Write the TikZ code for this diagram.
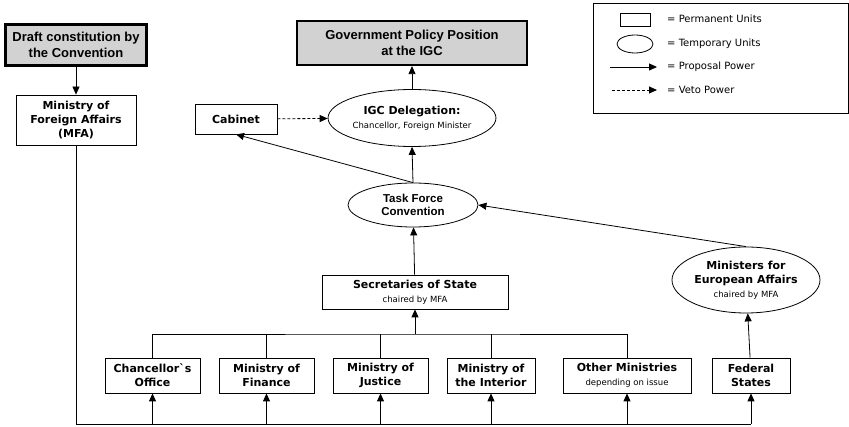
\documentclass[tikz,border=0pt]{standalone}
\usepackage{fontspec}
\setmainfont{DejaVu Sans}
\newfontfamily\arialfont{Liberation Sans}
\usepackage{tikz}
\usetikzlibrary{shapes.geometric}
\usetikzlibrary{arrows.meta}
\definecolor{BoxGray}{RGB}{210,210,210}
\tikzstyle{UnitBox}=[rectangle,draw,line width=0.8pt,inner sep=0pt,align=center,
font=\bfseries\fontsize{11}{14}\selectfont]
\tikzstyle{TempUnit}=[ellipse,draw,line width=0.8pt,inner sep=0pt,align=center,
font=\bfseries\fontsize{11}{14}\selectfont]
\tikzstyle{PolicyBox}=[rectangle,draw,line width=2.2pt,fill=BoxGray,inner sep=0pt,align=center,
font=\arialfont\bfseries\fontsize{13}{15.5}\selectfont]
\tikzstyle{Proposal}=[line width=0.8pt,-{Triangle[length=8pt,width=7pt]}]
\tikzstyle{Veto}=[Proposal,dash pattern=on 3pt off 2pt]
\tikzstyle{Link}=[line width=0.8pt]
\tikzstyle{KeyText}=[anchor=west,inner sep=0pt,font=\fontsize{10}{12}\selectfont]
\newcommand{\smalltxt}[1]{{\mdseries\fontsize{8.5}{11}\selectfont #1}}

\begin{document}
\begin{tikzpicture}[x=1pt,y=-1pt]
        \useasboundingbox (0,0) rectangle (849,427);
        % top level
        \node[PolicyBox,minimum width=141,minimum height=41](draft)at(76,45){Draft constitution by\\the Convention};
        \node[PolicyBox,minimum width=230,minimum height=44](gov)at(412,43){Government Policy Position\\at the IGC};
        \node[UnitBox,minimum width=120,minimum height=50](mfa)at(76,120){Ministry of\\Foreign Affairs\\(MFA)};
        \node[UnitBox,minimum width=82,minimum height=30](cab)at(236,119){Cabinet};
        \node[TempUnit,minimum width=160,minimum height=57](igc)at(412,118){IGC Delegation:\\\smalltxt{Chancellor, Foreign Minister}};
        \node[TempUnit,minimum width=130,minimum height=44,font=\arialfont\bfseries\fontsize{11.5}{13}\selectfont](task)at(413,205){Task Force\\Convention};
        \node[UnitBox,minimum width=186,minimum height=34](sec)at(415,292){Secretaries of State\\\smalltxt{chaired by MFA}};
        \node[TempUnit,minimum width=148,minimum height=66](min)at(746,280){Ministers for\\European Affairs\\\smalltxt{chaired by MFA}};
        % ministries
        \node[UnitBox,minimum width=95,minimum height=35](chanc)at(152.5,375.5){Chancellor\textasciigrave s\\Office};
        \node[UnitBox,minimum width=95,minimum height=35](fin)at(266.5,375.5){Ministry of\\Finance};
        \node[UnitBox,minimum width=95,minimum height=35](just)at(380.5,375.5){Ministry of\\Justice};
        \node[UnitBox,minimum width=88,minimum height=35](inter)at(491,375.5){Ministry of\\the Interior};
        \node[UnitBox,minimum width=128,minimum height=35](other)at(627,375.5){Other Ministries\\\smalltxt{depending on issue}};
        \node[UnitBox,minimum width=78,minimum height=35](fed)at(751,375.5){Federal\\States};
        \coordinate(bus)at(415,334);
        \coordinate(base)at(76,424);
        % connectors
        \draw[Proposal](draft)--(mfa);
        \draw[Proposal](igc)--(gov);
        \draw[Proposal](task.north)--(igc.south);
        \draw[Proposal](task.north)--(cab.south);
        \draw[Veto](cab)--(igc);
        \draw[Proposal](sec)--(task);
        \draw[Proposal](min.north)--(task.east);
        \draw[Proposal](fed)--(min);
        \draw[Link](chanc.north)|-(bus)-|(other.north);
        \draw[Link](fin.north)--(fin.north|-bus);
        \draw[Link](just.north)--(just.north|-bus);
        \draw[Link](inter.north)--(inter.north|-bus);
        \draw[Proposal](bus)--(sec.south);
        \draw[Link](mfa.south)|-(fed.south|-base);
        \draw[Proposal](chanc.south|-base)--(chanc.south);
        \draw[Proposal](fin.south|-base)--(fin.south);
        \draw[Proposal](just.south|-base)--(just.south);
        \draw[Proposal](inter.south|-base)--(inter.south);
        \draw[Proposal](other.south|-base)--(other.south);
        \draw[Proposal](fed.south|-base)--(fed.south);
        % legend
        \node[draw,line width=0.8pt,minimum width=255,minimum height=110,inner sep=0pt](key)at(720.5,58){};
        \node[draw,line width=0.8pt,minimum width=30,minimum height=13,inner sep=0pt](keybox)at(635,19.5){};
        \node[draw,ellipse,line width=0.8pt,minimum width=36,minimum height=18,inner sep=0pt](keyell)at(635,44){};
        \coordinate(keypa)at(610,67);
        \coordinate(keypb)at(657,67);
        \coordinate(keyva)at(612,90);
        \coordinate(keyvb)at(657,90);
        \draw[Proposal](keypa)--(keypb);
        \draw[Veto](keyva)--(keyvb);
        \node[KeyText](perm)at(667,19){= Permanent Units};
        \node[KeyText](temp)at(667,44){= Temporary Units};
        \node[KeyText](prop)at(667,67){= Proposal Power};
        \node[KeyText](veto)at(667,90){= Veto Power};
    \end{tikzpicture}
\end{document}
